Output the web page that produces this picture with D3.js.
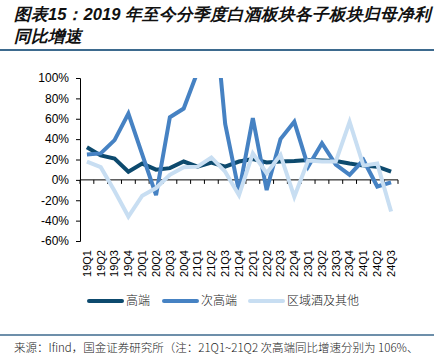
<!DOCTYPE html>
<html lang="zh">
<head>
<meta charset="UTF-8">
<title>白酒子板块归母净利同比增速</title>
<script src="https://d3js.org/d3.v7.min.js"></script>
<style>
  body { margin: 0; background: #fff; }
  svg text { font-family: "Liberation Sans", Arial, sans-serif; }
  .cjk { font-family: "Noto Sans CJK SC", sans-serif; }
</style>
</head>
<body>
<svg id="chart" width="434" height="364"></svg>
<script>
// quarters and series (%), 21Q2 次高端 is off the chart (estimated)
const quarters = ["19Q1","19Q2","19Q3","19Q4","20Q1","20Q2","20Q3","20Q4",
  "21Q1","21Q2","21Q3","21Q4","22Q1","22Q2","22Q3","22Q4",
  "23Q1","23Q2","23Q3","23Q4","24Q1","24Q2","24Q3"];
const high = [32, 24, 21, 8, 16, 10, 11.5, 18, 13, 17, 13, 18, 20.5, 17, 18, 18.5, 19.5, 19, 18.5, 16, 14, 13, 8];
const subHigh = [25, 26, 39, 65, 25, -15, 61.5, 70, 106, 200, 55, -11.5, 60.5, -10, 40, 57, 13, 36, 15, 5, 19.5, -6.5, -2.5];
const regional = [18, 12.5, -11, -36, -15.5, -8, 5, 12.5, 13, 22, 8, -15, 26, 6.5, 24.5, -16.5, 19, 18, 18, 57, 14, 16, -31];
const yTicks = [-60, -40, -20, 0, 20, 40, 60, 80, 100];

const series = [
  { name: "高端", values: high, color: "#0d4a6e" },
  { name: "次高端", values: subHigh, color: "#4682c3" },
  { name: "区域酒及其他", values: regional, color: "#c8def2" }
];

const svg = d3.select("#chart");

// title
const title = svg.append("g").attr("class", "cjk")
  .attr("font-size", 16.6).attr("font-weight", "bold").attr("font-style", "italic").attr("fill", "#111");
title.append("text").attr("x", 14).attr("y", 20).text("图表15：2019 年至今分季度白酒板块各子板块归母净利");
title.append("text").attr("x", 14).attr("y", 42).text("同比增速");
svg.append("line").attr("x1", 0).attr("x2", 434).attr("y1", 50).attr("y2", 50)
  .attr("stroke", "#3d6a8e").attr("stroke-width", 2);

const x = d3.scaleBand().domain(quarters).range([80, 398]);
const y = d3.scaleLinear().domain([-60, 100]).range([241, 78]);

svg.append("clipPath").attr("id", "plot")
  .append("rect").attr("x", 80).attr("y", 78).attr("width", 318).attr("height", 163);

// y axis
const yAxis = svg.append("g").attr("transform", "translate(80,0)")
  .call(d3.axisLeft(y).tickValues(yTicks).tickSize(4).tickPadding(7).tickFormat(d => d + "%"));
yAxis.selectAll("text").attr("font-size", 12).attr("fill", "#000");
yAxis.select(".domain").attr("stroke", "#000");

// x axis at 0%
const y0 = y(0);
svg.append("line").attr("x1", 80).attr("x2", 398).attr("y1", y0).attr("y2", y0).attr("stroke", "#000");
svg.append("g").selectAll("line").data(d3.range(quarters.length + 1)).join("line")
  .attr("x1", i => 80 + i * x.step()).attr("x2", i => 80 + i * x.step())
  .attr("y1", y0).attr("y2", y0 + 4).attr("stroke", "#000");
svg.append("g").selectAll("text").data(quarters).join("text")
  .attr("transform", d => `translate(${x(d) + x.bandwidth() / 2},250) rotate(-90)`)
  .attr("text-anchor", "end").attr("dy", "0.35em").attr("font-size", 11).text(d => d);

// lines
const line = d3.line().x((d, i) => x(quarters[i]) + x.bandwidth() / 2).y(d => y(d));
svg.append("g").attr("clip-path", "url(#plot)").selectAll("path").data(series).join("path")
  .attr("d", s => line(s.values)).attr("fill", "none")
  .attr("stroke", s => s.color).attr("stroke-width", 4).attr("stroke-linejoin", "miter");

// legend
const legendX = [89, 164, 250];
const legend = svg.append("g").selectAll("g").data(series).join("g")
  .attr("transform", (s, i) => `translate(${legendX[i]},301)`);
legend.append("line").attr("x1", 0).attr("x2", 33).attr("stroke", s => s.color)
  .attr("stroke-width", 4).attr("stroke-linecap", "round");
legend.append("text").attr("class", "cjk").attr("x", 37).attr("dy", "0.35em")
  .attr("font-size", 12).attr("font-weight", 300).attr("fill", "#222").text(s => s.name);

// source
svg.append("line").attr("x1", 0).attr("x2", 434).attr("y1", 335).attr("y2", 335)
  .attr("stroke", "#3d6a8e").attr("stroke-width", 1.5);
svg.append("text").attr("class", "cjk").attr("x", 14).attr("y", 352).attr("font-size", 11.5)
  .attr("font-weight", 300).attr("fill", "#222")
  .text("来源：Ifind，国金证券研究所（注：21Q1~21Q2 次高端同比增速分别为 106%、");
</script>
</body>
</html>
